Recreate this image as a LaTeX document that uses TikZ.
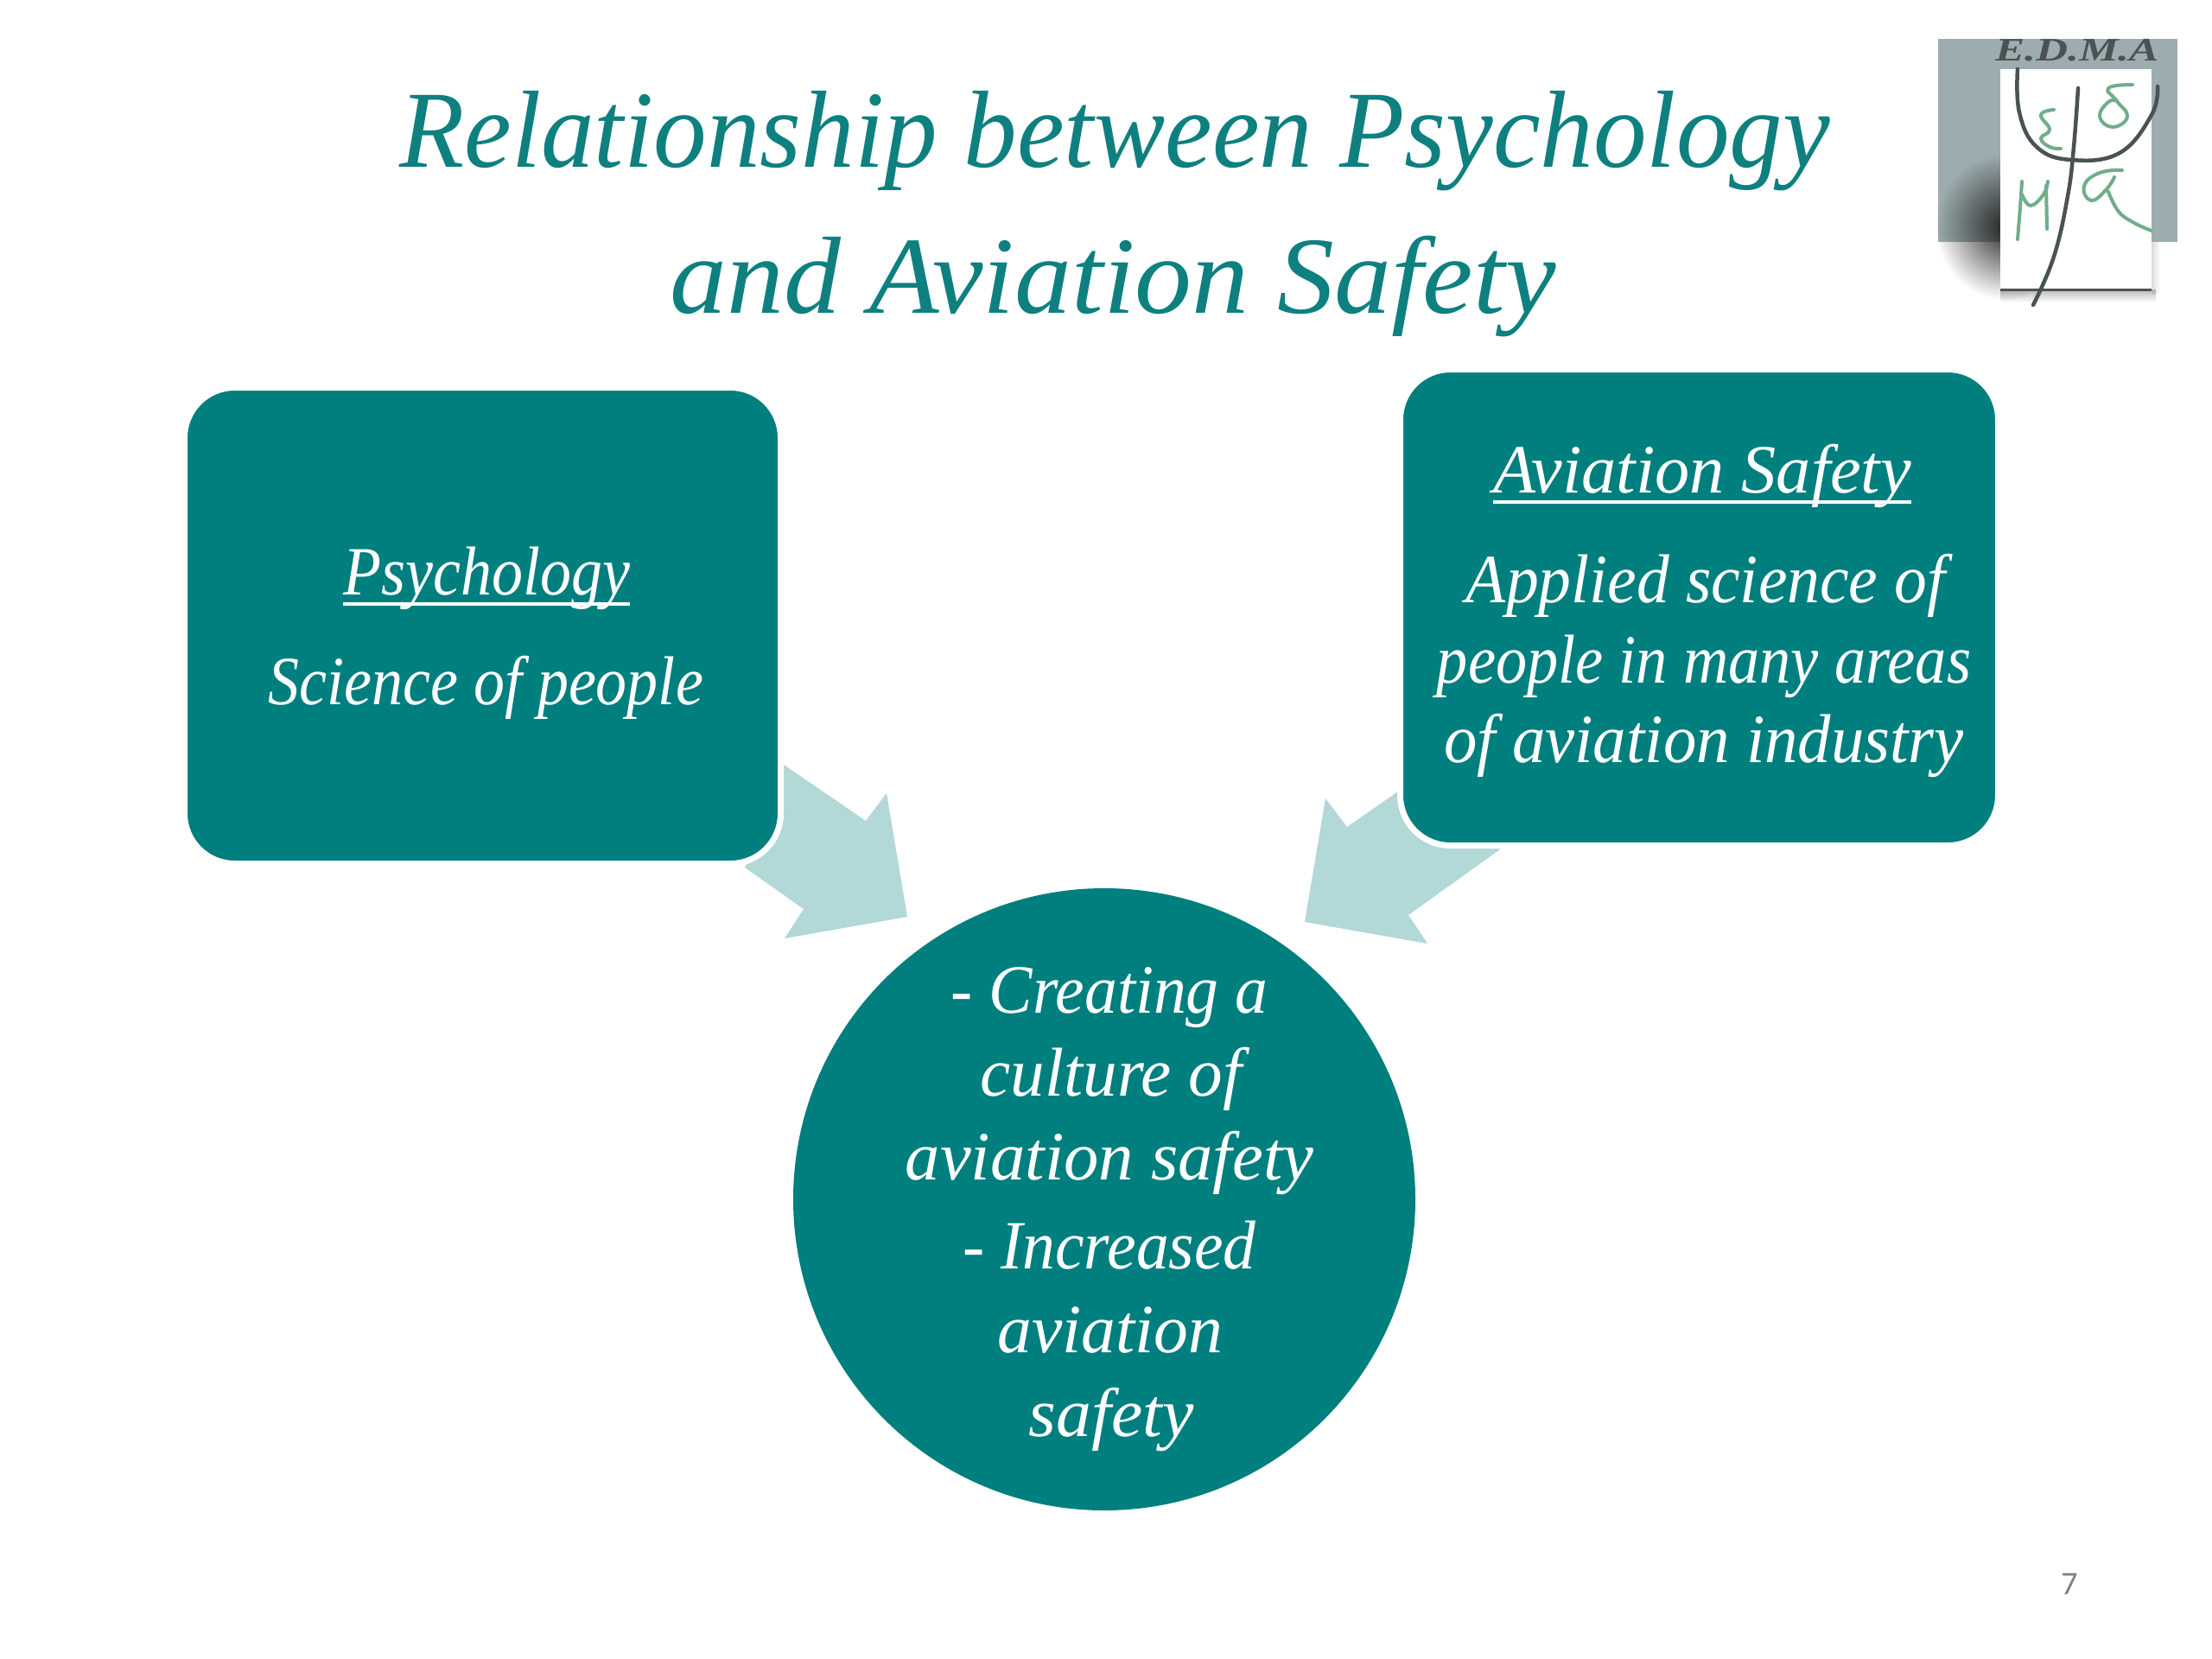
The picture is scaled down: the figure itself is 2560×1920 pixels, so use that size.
\documentclass[tikz,border=0pt]{standalone}
\usepackage{fontspec}
\setmainfont{Liberation Serif}
\newfontfamily\titlefont{Liberation Serif}[FakeStretch=0.97]
\newfontfamily\bodyfont{Liberation Serif}[FakeStretch=0.90]
\newfontfamily\numfont{Carlito}
\usetikzlibrary{fadings}
\tikzfading[name=softblob,inner color=transparent!0,outer color=transparent!100]
\definecolor{tealmain}{HTML}{007F7F}
\definecolor{tealtitle}{HTML}{0F8080}
\definecolor{tealpale}{HTML}{B2D8D8}
\definecolor{logogray}{HTML}{9DADAF}
\definecolor{logoink}{HTML}{4A5254}
\definecolor{logogreen}{HTML}{6FAE8A}
\newcommand{\sxtext}[2]{\scalebox{#1}[1]{#2}}
\tikzset{
  titletext/.style={anchor=base,inner sep=0pt,text=tealtitle,font=\titlefont\fontsize{127}{127}\selectfont\itshape},
  bodytext/.style={anchor=base,inner sep=0pt,text=white,font=\bodyfont\fontsize{80}{80}\selectfont\itshape},
  boxshape/.style={fill=tealmain,draw=white,line width=7pt,rounded corners=58pt},
  arrowshape/.style={fill=tealpale,draw=none},
  ruleline/.style={draw=white,line width=3.2pt},
  ink/.style={draw=logoink,line width=4.5pt,line cap=round,line join=round},
  greenink/.style={draw=logogreen,line width=4pt,line cap=round,line join=round},
}
\begin{document}
\begin{tikzpicture}[x=1pt,y=-1pt]
\useasboundingbox[fill=white] (0,0) rectangle (2560,1920);
% title
\node[titletext] (t1) at (1290,193) {Relationship between Psychology};
\node[titletext] (t2) at (1288,362) {\sxtext{1.07}{and Aviation Safety}};
% logo
\fill[logogray] (2243,45) rectangle (2520,280);
\fill[black!85,path fading=softblob] (2322,262) ellipse [x radius=82,y radius=85];
\fill[black!60,opacity=.45,path fading=south] (2315,335) rectangle (2495,350);
\fill[black!40,opacity=.35,path fading=east] (2490,280) rectangle (2500,340);
\fill[white] (2315,80) rectangle (2490,335);
\draw[draw=logoink,line width=3pt] (2315,335) -- (2490,335);
\node[inner sep=0pt,anchor=base,text=logoink,font=\fontsize{38}{38}\selectfont\itshape\bfseries] (lg) at (2404,70) {\scalebox{1.35}[1]{E.D.M.A}};
\draw[ink] plot[smooth,tension=.7] coordinates {(2335,80) (2337,130) (2357,170) (2397,185) (2453,177) (2490,133) (2497,100)};
\draw[ink] plot[smooth,tension=.7] coordinates {(2405,102) (2400,170) (2393,227) (2377,297) (2353,353)};
\draw[greenink] plot[smooth,tension=.8] coordinates {(2377,127) (2362,133) (2372,150) (2362,160) (2372,170) (2385,172)};
\draw[greenink] plot[smooth,tension=.8] coordinates {(2468,98) (2440,102) (2450,117) (2462,135) (2445,147) (2430,135) (2440,118) (2450,117)};
\draw[greenink] plot[smooth,tension=.4] coordinates {(2335,277) (2338,240) (2340,210)};
\draw[greenink] plot[smooth,tension=.7] coordinates {(2340,225) (2350,238) (2365,225) (2370,210)};
\draw[greenink] (2368,215) -- (2369,265);
\draw[greenink] plot[smooth,tension=.8] coordinates {(2456,197) (2430,200) (2412,215) (2420,232) (2437,220) (2447,205)};
\draw[greenink] plot[smooth,tension=.7] coordinates {(2440,222) (2452,245) (2470,258) (2490,267)};
% arrows
\fill[arrowshape] (907,885) -- (1002,950) -- (1026,918) -- (1050,1061) -- (908,1086) -- (930,1052) -- (862,1004) -- cycle;
\fill[arrowshape] (1534,924) -- (1559,957) -- (1618,916) -- (1736,983) -- (1630,1059) -- (1652,1092) -- (1510,1067) -- cycle;
% boxes
\node[boxshape,minimum width=690pt,minimum height=551pt,inner sep=0pt] (psy) at (558.5,724) {};
\node[boxshape,minimum width=692pt,minimum height=551pt,inner sep=0pt] (avi) at (1966.5,703) {};
\node[inner sep=0pt,minimum size=720pt,circle,fill=tealmain] (res) at (1278,1388) {};
% box text
\node[bodytext] (a1) at (563,688) {Psychology};
\draw[ruleline] ([yshift=-11pt]a1.base west) -- ([yshift=-11pt]a1.base east);
\node[bodytext] (a2) at (562,815) {Science of people};
\node[bodytext] (b1) at (1970,570) {\sxtext{1.115}{Aviation Safety}};
\draw[ruleline] ([yshift=-11pt]b1.base west) -- ([yshift=-11pt]b1.base east);
\node[bodytext] (b2) at (1974,697) {\sxtext{1.05}{Applied science of}};
\node[bodytext] (b3) at (1972,790) {\sxtext{1.005}{people in many areas}};
\node[bodytext] (b4) at (1972,882) {\sxtext{1.067}{of aviation industry}};
\node[bodytext] (c1) at (1284,1172) {\sxtext{1.05}{- Creating a}};
\node[bodytext] (c2) at (1286,1268) {\sxtext{1.10}{culture of}};
\node[bodytext] (c3) at (1284,1365) {\sxtext{1.12}{aviation safety}};
\node[bodytext] (c4) at (1284,1468) {\sxtext{1.05}{- Increased}};
\node[bodytext] (c5) at (1285,1565) {\sxtext{1.105}{aviation}};
\node[bodytext] (c6) at (1286,1662) {\sxtext{1.135}{safety}};
% page number
\node[inner sep=0pt,anchor=base,text=black!50,font=\fontsize{38}{38}\selectfont\numfont] (pg) at (2395,1845) {7};
\end{tikzpicture}
\end{document}
